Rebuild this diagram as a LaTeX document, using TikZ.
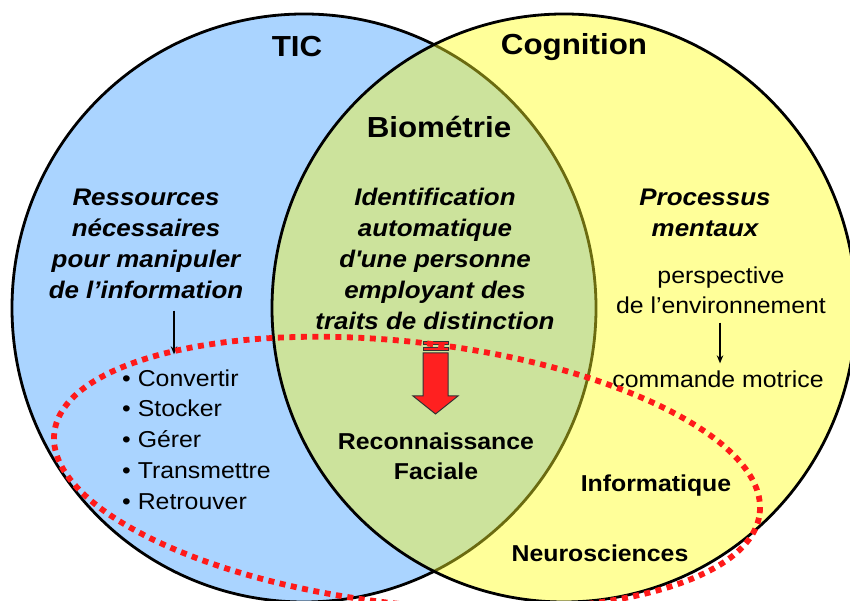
\documentclass[tikz,border=0pt]{standalone}
\usepackage{fontspec}
\setmainfont{Liberation Sans}[FakeStretch=1.08]
\usetikzlibrary{arrows.meta}
\definecolor{ticblue}{HTML}{AAD4FF}
\definecolor{cogyellow}{HTML}{FFFF99}
\definecolor{biogreen}{HTML}{CCE39C}
\definecolor{oliveline}{HTML}{6B6B10}
\definecolor{dotred}{HTML}{FF1A1A}
\definecolor{arrred}{HTML}{FF2020}
\begin{document}
\begin{tikzpicture}[x=1pt,y=1pt,
  title/.style={font=\fontsize{29}{34}\selectfont\bfseries, inner sep=0pt},
  itl/.style={font=\fontsize{24}{31}\selectfont\bfseries\itshape, align=center, inner sep=0pt},
  reg/.style={font=\fontsize{23}{30}\selectfont, align=center, inner sep=0pt},
  bld/.style={font=\fontsize{23}{30}\selectfont\bfseries, align=center, inner sep=0pt},
  lst/.style={font=\fontsize{23}{30.75}\selectfont, align=left, inner sep=0pt},
  arr/.style={-{Stealth[length=8pt,width=6.5pt]}, line width=1.3pt, black},
  outline/.style={line width=2.8pt},
  redloop/.style={draw=dotred, line width=5.8pt, dash pattern=on 6pt off 5.5pt},
  blockarrow/.style={fill=arrred, draw=black!80, line width=1pt, line join=miter}
]
\useasboundingbox (0,0) rectangle (850,601);
\clip (0,0) rectangle (850,601);
% circles
\fill[ticblue] (304,293) ellipse [x radius=292, y radius=294];
\draw[outline, black] (304,293) ellipse [x radius=292, y radius=294];
\fill[cogyellow] (564,293) ellipse [x radius=292, y radius=294];
\begin{scope}
  \clip (304,293) ellipse [x radius=292, y radius=294];
  \fill[biogreen] (564,293) ellipse [x radius=292, y radius=294];
\end{scope}
\begin{scope}
  \clip (564,293) ellipse [x radius=292, y radius=294];
  \draw[outline, oliveline] (304,293) ellipse [x radius=292, y radius=294];
\end{scope}
\draw[outline, black] (564,293) ellipse [x radius=292, y radius=294];

% titles
\node[title] (tic) at (297,554) {TIC};
\node[title] (cog) at (574,554) {Cognition};
\node[title] (bio) at (439,474) {Biométrie};

% italic blocks
\node[itl] (ress) at (146,357.5) {Ressources\\nécessaires\\pour manipuler\\de l’information};
\node[itl] (ident) at (435,342.5) {Identification\\automatique\\d\textquotesingle une personne\\employant des\\traits de distinction};
\node[itl] (proc) at (705,388.5) {Processus\\mentaux};

% right texts
\node[reg] (persp) at (721,311) {perspective\\de l’environnement};
\node[reg] (cmd) at (718,222) {commande motrice};

% list
\node[lst, anchor=west] (list) at (122,161.5) {• Convertir\\• Stocker\\• Gérer\\• Transmettre\\• Retrouver};

% bold labels
\node[bld] (recon) at (436,145) {Reconnaissance\\Faciale};
\node[bld] (info) at (656,115) {Informatique};
\node[bld] (neuro) at (600,48) {Neurosciences};

% small arrows
\draw[arr, shorten <=12pt, shorten >=15pt] ([xshift=28pt]ress.south) -- ([xshift=28pt]ress.south |- list.north);
\draw[arr, shorten <=9pt, shorten >=7pt] ([xshift=-1pt]persp.south) -- ([xshift=-1pt]persp.south |- cmd.north);

% red striped block arrow
\draw[blockarrow] (423,256) rectangle (448,259);
\draw[blockarrow] (423,250) rectangle (448,253);
\draw[blockarrow] (423,248) -- (448,248) -- (448,205) -- (458,205) -- (435.5,187) -- (413,205) -- (423,205) -- cycle;

% red dotted loop
\draw[redloop, rotate around={-6.5:(407,128)}] (407,128) ellipse [x radius=355, y radius=131];
\end{tikzpicture}
\end{document}
